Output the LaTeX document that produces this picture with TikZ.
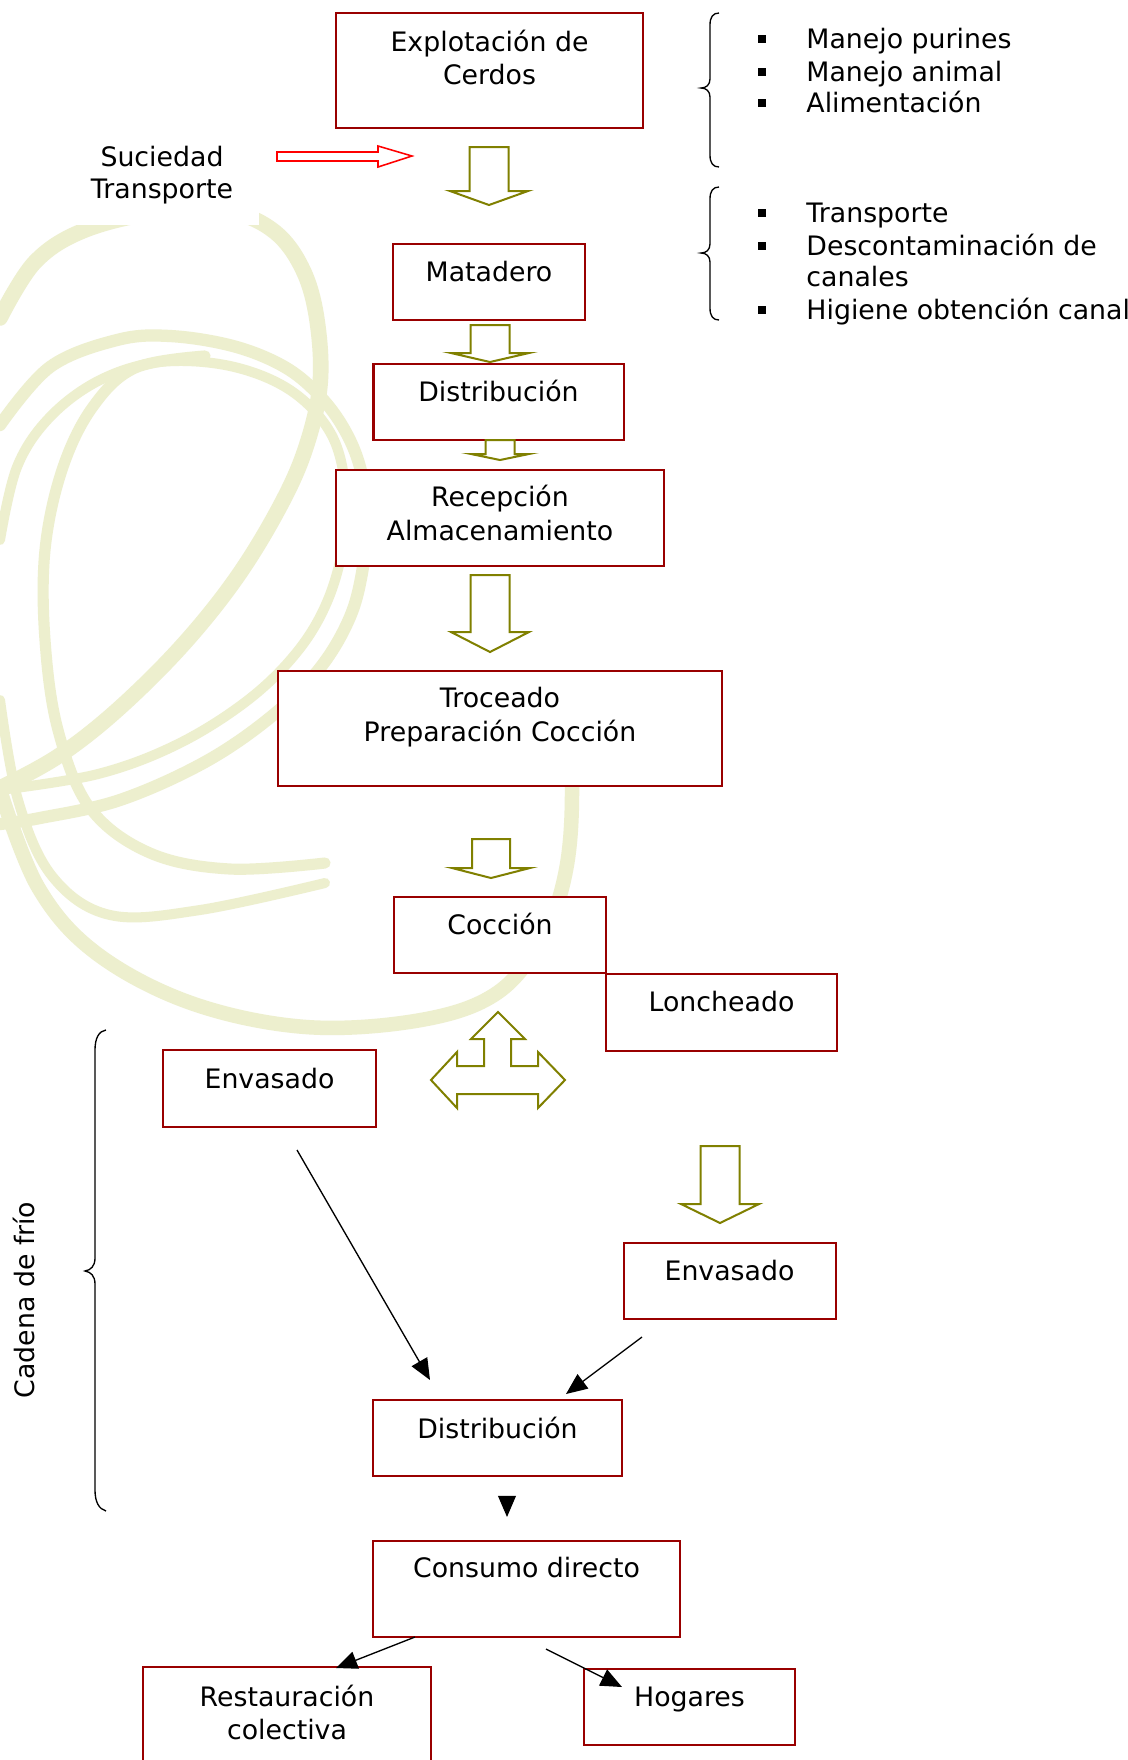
\documentclass[tikz,border=0pt]{standalone}
\usepackage{fontspec}
\setmainfont{DejaVu Sans}
\usetikzlibrary{arrows.meta,calc}
\definecolor{boxred}{RGB}{153,0,0}
\definecolor{olivec}{RGB}{128,128,0}
\definecolor{wmcol}{RGB}{237,239,206}
\newcommand\pxu{0.4484pt}
\newcommand\blockdown[6]{%
  \draw[blk] (#1-#5,#2) -- (#1+#5,#2) -- (#1+#5,#3) -- (#1+#6,#3) -- (#1,#4) -- (#1-#6,#3) -- (#1-#5,#3) -- cycle;}
\tikzset{
  box/.style={rectangle, draw=boxred, line width=0.9pt, fill=white, inner sep=0pt},
  lblbase/.style={font=\fontsize{12}{14.5}\selectfont, inner sep=0pt},
  lbl/.style={lblbase, anchor=mid, yshift=-2pt},
  lblw/.style={lblbase, anchor=mid west, yshift=-1.6pt},
  blk/.style={draw=olivec, line width=0.9pt, fill=white, line join=miter},
  conn/.style={draw=black, line width=0.6pt, -{Triangle[length=9.5pt,width=8pt]}},
  wmline/.style={draw=wmcol, line cap=round, line join=round},
  bracepath/.style={draw=black, line width=0.6pt},
  bullet/.style={rectangle, fill=black, minimum width=3.4pt, minimum height=3.2pt, inner sep=0pt}
}
\begin{document}
\begin{tikzpicture}[x=0.4484pt, y=-0.4484pt]
\useasboundingbox (0,0) rectangle (1128,1760);
\clip (0,0) rectangle (1128,1760);
\fill[white] (0,0) rectangle (1128,1760);

% ---------- watermark ----------
\draw[wmline, line width=7pt] plot[smooth, tension=0.6] coordinates {(0,318) (35,262) (85,230) (160,212) (230,212) (275,232) (303,270) (317,320) (320,385) (305,450) (278,510) (235,580) (180,648) (115,712) (57,757) (0,788)};
\draw[wmline, line width=5.5pt] plot[smooth, tension=0.6] coordinates {(0,425) (50,367) (117,340) (170,336) (233,346) (283,366) (317,393) (343,427) (360,467) (367,517) (363,567) (350,617) (320,668) (272,716) (205,762) (120,800) (40,818) (0,824)};
\draw[wmline, line width=5pt] plot[smooth, tension=0.6] coordinates {(205,356) (135,368) (92,408) (62,470) (45,550) (45,640) (58,730) (90,808) (150,853) (230,869) (325,863)};
\draw[wmline, line width=4.5pt] plot[smooth, tension=0.6] coordinates {(0,700) (18,800) (52,876) (110,915) (200,910) (325,883)};
\draw[wmline, line width=6.5pt] plot[smooth, tension=0.6] coordinates {(0,790) (38,887) (96,953) (191,1003) (306,1027) (421,1020) (497,993) (543,937) (566,870) (572,787) (565,700)};
\draw[wmline, line width=4.5pt] plot[smooth, tension=0.6] coordinates {(0,540) (17,467) (50,417) (100,380) (160,362) (230,366) (290,390) (330,432) (345,485) (343,545) (327,602) (297,652) (248,700) (178,744) (98,774) (0,790)};
\fill[white] (0,0) rectangle (259,225);

% ---------- boxes ----------
\node[box, minimum width=307*\pxu, minimum height=115*\pxu] (expl)  at (489.5,70.5) {};
\node[box, minimum width=192*\pxu, minimum height=76*\pxu]  (mat)   at (489,282) {};
\node[box, minimum width=250*\pxu, minimum height=76*\pxu]  (dist1) at (498.5,402) {};
\node[box, minimum width=328*\pxu, minimum height=96*\pxu]  (recep) at (500,518) {};
\node[box, minimum width=444*\pxu, minimum height=115*\pxu] (troc)  at (500,728.5) {};
\node[box, minimum width=212*\pxu, minimum height=76*\pxu]  (cocc)  at (500,935) {};
\node[box, minimum width=231*\pxu, minimum height=77*\pxu]  (lonch) at (721.5,1012.5) {};
\node[box, minimum width=213*\pxu, minimum height=77*\pxu]  (env1)  at (269.5,1088.5) {};
\node[box, minimum width=212*\pxu, minimum height=76*\pxu]  (env2)  at (729.5,1280.5) {};
\node[box, minimum width=249*\pxu, minimum height=76*\pxu]  (dist2) at (497.5,1438) {};
\node[box, minimum width=307*\pxu, minimum height=96*\pxu]  (cons)  at (526.5,1589) {};
\node[box, minimum width=288*\pxu, minimum height=132*\pxu] (rest)  at (287,1733) {};
\node[box, minimum width=211*\pxu, minimum height=76*\pxu]  (hog)   at (689.5,1707) {};

% ---------- box texts ----------
\node[lbl] (texpl1) at ($(expl.north)+(0,29)$) {Explotación de};
\node[lbl] (texpl2) at ($(expl.north)+(0,62)$) {Cerdos};
\node[lbl] (tmat)   at ($(mat.north)+(0,28)$) {Matadero};
\node[lbl] (tdist1) at ($(dist1.north)+(0,28)$) {Distribución};
\node[lbl] (trecep1) at ($(recep.north)+(0,27)$) {Recepción};
\node[lbl] (trecep2) at ($(recep.north)+(0,61)$) {Almacenamiento};
\node[lbl] (ttroc1) at ($(troc.north)+(0,27)$) {Troceado};
\node[lbl] (ttroc2) at ($(troc.north)+(0,61)$) {Preparación Cocción};
\node[lbl] (tcocc)  at ($(cocc.north)+(0,28)$) {Cocción};
\node[lbl] (tlonch) at ($(lonch.north)+(0,28)$) {Loncheado};
\node[lbl] (tenv1)  at ($(env1.north)+(0,29)$) {Envasado};
\node[lbl] (tenv2)  at ($(env2.north)+(0,28)$) {Envasado};
\node[lbl] (tdist2) at ($(dist2.north)+(0,29)$) {Distribución};
\node[lbl] (tcons)  at ($(cons.north)+(0,27)$) {Consumo directo};
\node[lbl] (trest1) at ($(rest.north)+(0,30)$) {Restauración};
\node[lbl] (trest2) at ($(rest.north)+(0,63)$) {colectiva};
\node[lbl] (thog)   at ($(hog.north)+(0,28)$) {Hogares};

% ---------- side texts ----------
\node[lbl] (tsuc1) at (162,156) {Suciedad};
\node[lbl] (tsuc2) at (162,188) {Transporte};
\node[lblbase, anchor=mid, rotate=90] (tcad) at (28,1300) {Cadena de frío};

% ---------- bullet lists ----------
\node[bullet] (b1) at (762,39) {};
\node[bullet] (b2) at (762,72) {};
\node[bullet] (b3) at (762,103) {};
\node[bullet] (b4) at (762,213) {};
\node[bullet] (b5) at (762,246) {};
\node[bullet] (b6) at (762,310) {};
\node[lblw] (l1) at (806,39) {Manejo purines};
\node[lblw] (l2) at (806,72) {Manejo animal};
\node[lblw] (l3) at (806,103) {Alimentación};
\node[lblw] (l4) at (806,213) {Transporte};
\node[lblw] (l5) at (806,246) {Descontaminación de};
\node[lblw] (l5b) at (806,277) {canales};
\node[lblw] (l6) at (806,310) {Higiene obtención canal};

% ---------- braces ----------
\draw[bracepath] (719,13) .. controls (713,13) and (710,17) .. (710,25) -- (710,79) .. controls (710,85) and (706,88) .. (701,88) .. controls (706,88) and (710,91) .. (710,97) -- (710,155) .. controls (710,163) and (713,167) .. (719,167);
\draw[bracepath] (719,187) .. controls (713,187) and (710,191) .. (710,199) -- (710,244) .. controls (710,250) and (706,253) .. (701,253) .. controls (706,253) and (710,256) .. (710,262) -- (710,308) .. controls (710,316) and (713,320) .. (719,320);
\draw[bracepath] (106,1030) .. controls (99,1031) and (95,1038) .. (95,1050) -- (95,1258) .. controls (95,1266) and (91,1270) .. (85,1271) .. controls (91,1272) and (95,1276) .. (95,1284) -- (95,1490) .. controls (95,1502) and (99,1509) .. (106,1511);

% ---------- block arrows ----------
\draw[draw=red, line width=0.7pt, fill=white, line join=miter] (277,152) -- (378,152) -- (378,146) -- (412,156) -- (378,167) -- (378,161) -- (277,161) -- cycle;
\blockdown{489}{147}{191}{205}{19.5}{39}
\blockdown{490}{325}{353}{362}{19.5}{39}
\blockdown{500}{440}{454}{460}{14.5}{29}
\blockdown{490}{575}{632}{652}{19.5}{39}
\blockdown{491}{839}{868}{878}{19}{39}
\blockdown{720}{1146}{1204}{1223}{19.5}{39}
\draw[blk] (498,1012) -- (525,1039) -- (511,1039) -- (511,1066) -- (538,1066) -- (538,1052) -- (565,1080) -- (538,1108) -- (538,1094) -- (457,1094) -- (457,1108) -- (431,1080) -- (457,1052) -- (457,1066) -- (484,1066) -- (484,1039) -- (471,1039) -- cycle;

% ---------- connectors ----------
\coordinate (e1s) at (297,1150);
\coordinate (e1t) at (430,1380);
\coordinate (e2s) at (642,1337);
\coordinate (e2t) at (566,1394);
\coordinate (d2s) at (507,1499);
\coordinate (d2t) at (507,1517);
\coordinate (c1s) at (415,1637);
\coordinate (c1t) at (336,1668);
\coordinate (c2s) at (546,1649);
\coordinate (c2t) at (622,1687);
\draw[conn] (e1s) -- (e1t);
\draw[conn] (e2s) -- (e2t);
\draw[conn] (d2s) -- (d2t);
\draw[conn] (c1s) -- (c1t);
\draw[conn] (c2s) -- (c2t);
\end{tikzpicture}
\end{document}
